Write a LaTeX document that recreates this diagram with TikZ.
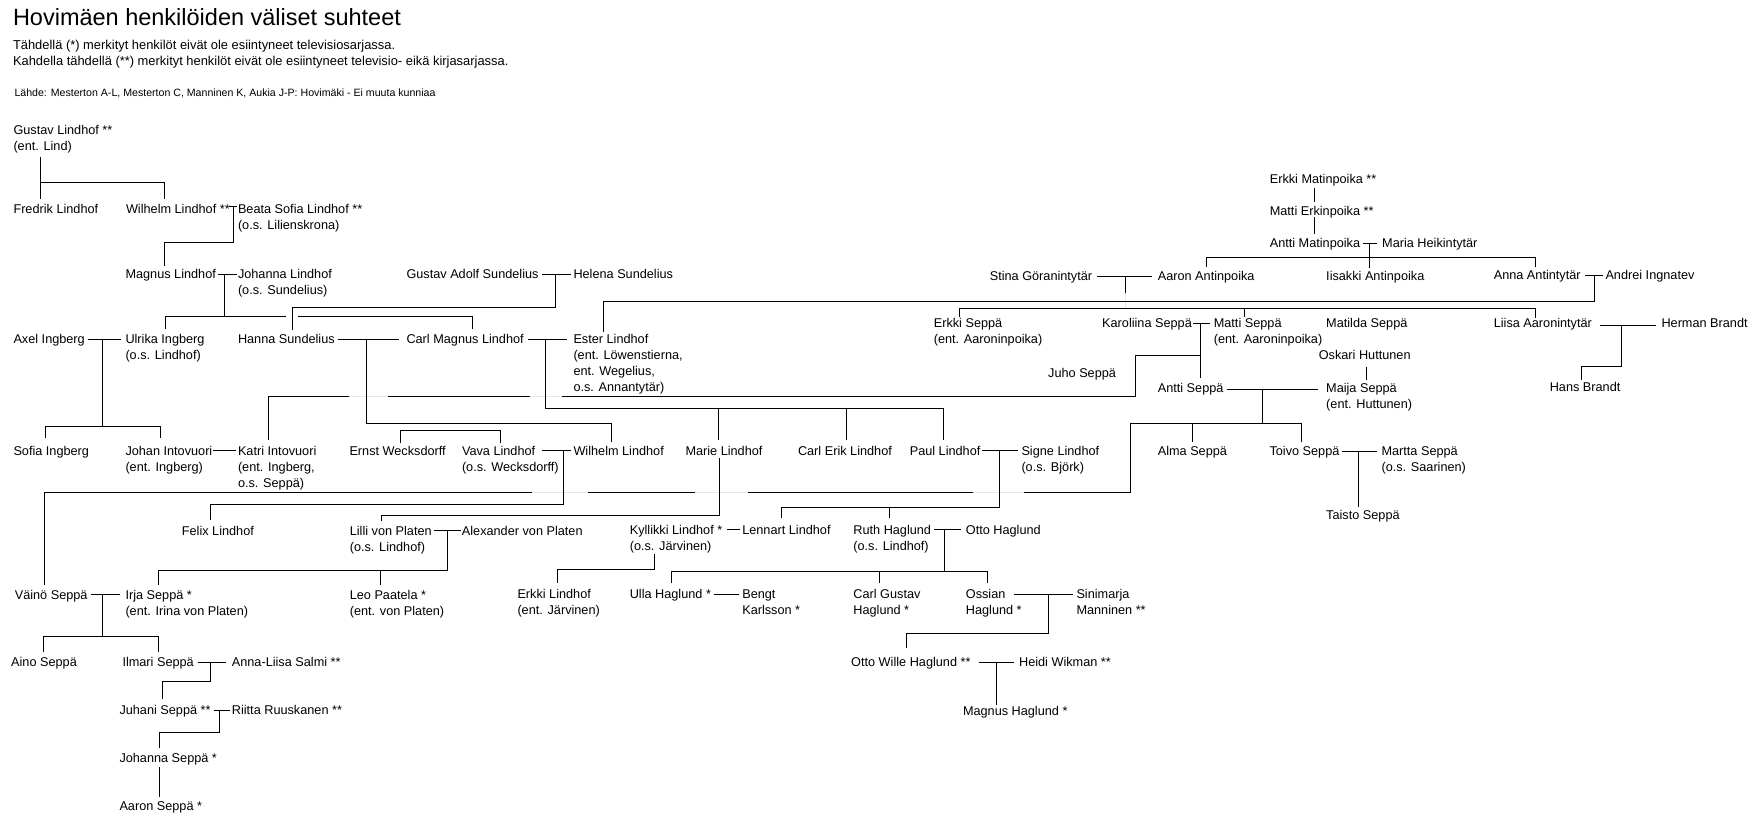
\documentclass[tikz,border=0pt]{standalone}
\usepackage{fontspec}
\setmainfont{Liberation Sans}
\newcommand{\namefont}{\fontsize{12.7}{16}\selectfont}
\newcommand{\lns}[1]{\begin{tabular}[t]{@{}l@{}}#1\end{tabular}}
\tikzset{person/.style={anchor=base west,inner sep=0pt,font=\namefont}}
\tikzset{crossing/.style={draw=black!10}}

\begin{document}
\begin{tikzpicture}[x=1pt,y=-1pt,line width=1pt]
\fill[white] (0,0) rectangle (1760,826);
\useasboundingbox (0,0) rectangle (1760,826);
% heading
\node[anchor=base west,inner sep=0pt,font=\fontsize{23.5}{28}\selectfont] (title) at (12.5,26) {Hovimäen henkilöiden väliset suhteet};
\node[person,font=\fontsize{12.9}{16.7}\selectfont] (notes) at (12.5,49.3) {\lns{Tähdellä (*) merkityt henkilöt eivät ole esiintyneet televisiosarjassa.\\Kahdella tähdellä (**) merkityt henkilöt eivät ole esiintyneet televisio- eikä kirjasarjassa.}};
\node[anchor=base west,inner sep=0pt,font=\fontsize{10.6}{13}\selectfont] (source) at (14,96.7) {Lähde: Mesterton A-L, Mesterton C, Manninen K, Aukia J-P: Hovimäki - Ei muuta kunniaa};

% Lindhof side
\node[person] (gustav) at (13,135) {\lns{Gustav Lindhof **\\(ent. Lind)}};
\node[person] (fredrik) at (13,214) {Fredrik Lindhof};
\node[person] (wilhelmA) at (125.5,214) {Wilhelm Lindhof **};
\node[person] (beata) at (237.5,214) {\lns{Beata Sofia Lindhof **\\(o.s. Lilienskrona)}};
\node[person] (magnus) at (125,278) {Magnus Lindhof};
\node[person] (johanna) at (237.5,278) {\lns{Johanna Lindhof\\(o.s. Sundelius)}};
\node[person] (gustavadolf) at (406,278) {Gustav Adolf Sundelius};
\node[person] (helena) at (573,278) {Helena Sundelius};
\node[person] (axel) at (13,343) {Axel Ingberg};
\node[person] (ulrika) at (125,343) {\lns{Ulrika Ingberg\\(o.s. Lindhof)}};
\node[person] (hanna) at (237.5,343) {Hanna Sundelius};
\node[person] (carlmagnus) at (406,343) {Carl Magnus Lindhof};
\node[person] (ester) at (573,343) {\lns{Ester Lindhof\\(ent. Löwenstierna,\\ent. Wegelius,\\o.s. Annantytär)}};
\node[person] (sofia) at (13,455) {Sofia Ingberg};
\node[person] (johan) at (125,455) {\lns{Johan Intovuori\\(ent. Ingberg)}};
\node[person] (katri) at (237.5,455) {\lns{Katri Intovuori\\(ent. Ingberg,\\o.s. Seppä)}};
\node[person] (ernst) at (349,455) {Ernst Wecksdorff};
\node[person] (vava) at (461.5,455) {\lns{Vava Lindhof\\(o.s. Wecksdorff)}};
\node[person] (wilhelmB) at (573,455) {Wilhelm Lindhof};
\node[person] (marie) at (685,455) {Marie Lindhof};
\node[person] (carlerik) at (797.5,455) {Carl Erik Lindhof};
\node[person] (paul) at (909.3,455) {Paul Lindhof};
\node[person] (signe) at (1021,455) {\lns{Signe Lindhof\\(o.s. Björk)}};
\node[person] (felix) at (181.4,535) {Felix Lindhof};
\node[person] (lilli) at (349.3,535) {\lns{Lilli von Platen\\(o.s. Lindhof)}};
\node[person] (alexander) at (461.4,535) {Alexander von Platen};
\node[person] (kyllikki) at (629.3,534) {\lns{Kyllikki Lindhof *\\(o.s. Järvinen)}};
\node[person] (lennart) at (741.8,534) {Lennart Lindhof};
\node[person] (ruth) at (852.9,534) {\lns{Ruth Haglund\\(o.s. Lindhof)}};
\node[person] (otto) at (965.4,534) {Otto Haglund};
\node[person] (vaino) at (14.3,599) {Väinö Seppä};
\node[person] (irja) at (125,599) {\lns{Irja Seppä *\\(ent. Irina von Platen)}};
\node[person] (leo) at (349.3,599) {\lns{Leo Paatela *\\(ent. von Platen)}};
\node[person] (erkkiL) at (517,598.3) {\lns{Erkki Lindhof\\(ent. Järvinen)}};
\node[person] (ulla) at (629.3,598.3) {Ulla Haglund *};
\node[person] (bengt) at (741.8,598.3) {\lns{Bengt\\Karlsson *}};
\node[person] (carlgustav) at (852.9,598.3) {\lns{Carl Gustav\\Haglund *}};
\node[person] (ossian) at (965.4,598.3) {\lns{Ossian\\Haglund *}};
\node[person] (sinimarja) at (1076,598.3) {\lns{Sinimarja\\Manninen **}};
\node[person] (aino) at (10.7,666.7) {Aino Seppä};
\node[person] (ilmari) at (122,666.7) {Ilmari Seppä};
\node[person] (annaliisa) at (231.4,666.7) {Anna-Liisa Salmi **};
\node[person] (ottowille) at (850.7,666.7) {Otto Wille Haglund **};
\node[person] (heidi) at (1018.6,666.7) {Heidi Wikman **};
\node[person] (juhani) at (119,714.3) {Juhani Seppä **};
\node[person] (riitta) at (231.4,714.3) {Riitta Ruuskanen **};
\node[person] (magnusH) at (962.5,715) {Magnus Haglund *};
\node[person] (johannaS) at (119,762.3) {Johanna Seppä *};
\node[person] (aaronS) at (119,810) {Aaron Seppä *};

% Seppä side
\node[person] (erkkiM) at (1269.3,184) {Erkki Matinpoika **};
\node[person] (mattiE) at (1269.3,215.7) {Matti Erkinpoika **};
\node[person] (anttiM) at (1269.3,247.3) {Antti Matinpoika};
\node[person] (maria) at (1381.7,247.3) {Maria Heikintytär};
\node[person] (stina) at (989.3,280) {Stina Göranintytär};
\node[person] (aaron) at (1157.3,280) {Aaron Antinpoika};
\node[person] (iisakki) at (1325.7,280) {Iisakki Antinpoika};
\node[person] (anna) at (1493.3,279.3) {Anna Antintytär};
\node[person] (andrei) at (1605,279.3) {Andrei Ingnatev};
\node[person] (erkkiS) at (933.3,327.3) {\lns{Erkki Seppä\\(ent. Aaroninpoika)}};
\node[person] (karoliina) at (1101.7,327.7) {Karoliina Seppä};
\node[person] (mattiS) at (1213.3,327.7) {\lns{Matti Seppä\\(ent. Aaroninpoika)}};
\node[person] (matilda) at (1325.7,327.7) {Matilda Seppä};
\node[person] (liisa) at (1493.3,327.3) {Liisa Aaronintytär};
\node[person] (herman) at (1661,327.3) {Herman Brandt};
\node[person] (oskari) at (1318.3,359) {Oskari Huttunen};
\node[person] (juho) at (1047.7,377.3) {Juho Seppä};
\node[person] (anttiS) at (1157.3,392.3) {Antti Seppä};
\node[person] (maija) at (1325.7,392.3) {\lns{Maija Seppä\\(ent. Huttunen)}};
\node[person] (hans) at (1549.3,391.7) {Hans Brandt};
\node[person] (alma) at (1157.3,455) {Alma Seppä};
\node[person] (toivo) at (1269,455) {Toivo Seppä};
\node[person] (martta) at (1381,455) {\lns{Martta Seppä\\(o.s. Saarinen)}};
\node[person] (taisto) at (1325.7,519.3) {Taisto Seppä};

% couple junctions
\coordinate (wilhelmA-beata) at (233,207);
\coordinate (magnus-johanna) at (224,274);
\coordinate (gustavadolf-helena) at (555,274);
\coordinate (axel-ulrika) at (102,339);
\coordinate (hanna-carlmagnus) at (366.8,339);
\coordinate (carlmagnus-ester) at (545,339);
\coordinate (vava-wilhelmB) at (563.3,450);
\coordinate (paul-signe) at (999.3,450.5);
\coordinate (lilli-alexander) at (447.5,530.5);
\coordinate (ruth-otto) at (944.6,529.5);
\coordinate (vaino-irja) at (102.9,594.3);
\coordinate (ossian-sinimarja) at (1048,594);
\coordinate (ilmari-annaliisa) at (210.7,662.5);
\coordinate (ottowille-heidi) at (996.4,662.3);
\coordinate (juhani-riitta) at (219,710);
\coordinate (anttiM-maria) at (1369.3,243.3);
\coordinate (stina-aaron) at (1125.7,276);
\coordinate (anna-andrei) at (1594.3,275);
\coordinate (karoliina-mattiS) at (1200,323.3);
\coordinate (anttiS-maija) at (1262.3,389);
\coordinate (liisa-herman) at (1621.7,325);
\coordinate (toivo-martta) at (1358.3,451);

% faint bits where lines cross
\draw[crossing] (530,396.3) -- (562,396.3);
\draw[crossing] (349,396.3) -- (387.5,396.3);
\draw[crossing] (531.7,492.5) -- (587.5,492.5);
\draw[crossing] (694.6,492.5) -- (748,492.5);
\draw[crossing] (973,492.5) -- (1024,492.5);
\draw[crossing] (1125.7,293) -- (1125.7,308.3);

% Lindhof lines
\draw (40.4,157) -- (40.4,199);
\draw (40.4,183) -| (164,199);
\draw (228.6,207) -- (237,207);
\draw (wilhelmA-beata) |- (164,243) -- (164,266);
\draw (218,274) -- (237,274);
\draw (magnus-johanna) -- (224,316);
\draw (165,329) |- (286,316);
\draw (298,316) -| (472.5,329);
\draw (542,274) -- (571,274);
\draw (gustavadolf-helena) |- (292,307.3) -- (292,330);
\draw (87.5,339) -- (121,339);
\draw (axel-ulrika) -- (102,426);
\draw (45.7,438) |- (160.7,426) -- (160.7,438);
\draw (337.5,339) -- (399,339);
\draw (hanna-carlmagnus) |- (611,423.3) -- (611,442);
\draw (528,339) -- (566.7,339);
\draw (carlmagnus-ester) |- (943.3,408.3) -- (943.3,440);
\draw (718,408.3) -- (718,440);
\draw (846.7,408.3) -- (846.7,440);
\draw (213,450) -- (235.7,450);
\draw (400.7,442.7) |- (500,430.7) -- (500,442.7);
\draw (541.8,450) -- (571,450);
\draw (vava-wilhelmB) |- (210.7,504.3) -- (210.7,520);
\draw (719,458) |- (381.4,515.7) -- (381.4,520.7);
\draw (982.3,450.5) -- (1018,450.5);
\draw (paul-signe) |- (781.4,507) -- (781.4,518);
\draw (889.3,507) -- (889.3,518);
\draw (434,530.5) -- (460.5,530.5);
\draw (lilli-alexander) |- (158,570.7) -- (158,585);
\draw (380.4,570.7) -- (380.4,585);
\draw (726.8,529.5) -- (740,529.5);
\draw (654.6,554) |- (557.9,569.3) -- (557.9,583.3);
\draw (934,529.5) -- (960.7,529.5);
\draw (ruth-otto) -- (944.6,571.7);
\draw (671.4,583.3) |- (987.5,571.7) -- (987.5,583.3);
\draw (879.3,571.7) -- (879.3,583.3);
\draw (91,594.3) -- (119.6,594.3);
\draw (vaino-irja) -- (102.9,636.7);
\draw (43.6,651.7) |- (158.2,636.7) -- (158.2,651.7);
\draw (713.6,594) -- (738.6,594);
\draw (1014.3,594) -- (1073,594);
\draw (ossian-sinimarja) |- (906.4,633.3) -- (906.4,648.3);
\draw (197.5,662.5) -- (225.7,662.5);
\draw (ilmari-annaliisa) |- (162.5,681) -- (162.5,699.3);
\draw (978.6,662.3) -- (1014,662.3);
\draw (ottowille-heidi) -- (996.4,705);
\draw (213.6,710) -- (230.4,710);
\draw (juhani-riitta) |- (159,732.3) -- (159,748.3);
\draw (159,766.7) -- (159,796.7);

% Seppä lines
\draw (1314,188.3) -- (1314,201.7);
\draw (1314,217) -- (1314,234);
\draw (1363.3,243.3) -- (1376.7,243.3);
\draw (anttiM-maria) -- (1369.3,268.3);
\draw (1206.7,266.7) |- (1535.7,257.3) -- (1535.7,266.7);
\draw (1096.7,276) -- (1152.3,276);
\draw (stina-aaron) -- (1125.7,293);
\draw (959.3,316.7) |- (1535.7,308.3) -- (1535.7,318.3);
\draw (1244.3,308.3) -- (1244.3,316.7);
\draw (1585,275) -- (1603,275);
\draw (anna-andrei) |- (603.3,301.3) -- (603.3,331.7);
\draw (1193.3,323.3) -- (1210,323.3);
\draw (karoliina-mattiS) -- (1200,378.3);
\draw (1200,355.7) -| (1135.7,396.3) -- (562,396.3);
\draw (530,396.3) -- (387.5,396.3);
\draw (349,396.3) -| (268.6,440);
\draw (1366.5,366.7) -- (1366.5,380);
\draw (1226.7,389) -- (1318.3,389);
\draw (anttiS-maija) -- (1262.3,423.3);
\draw (1192.3,423.3) -- (1192.3,442.3);
\draw (1301.7,442.3) |- (1130.3,423.3) -- (1130.3,492.5) -- (1024,492.5);
\draw (973,492.5) -- (748,492.5);
\draw (694.6,492.5) -- (587.5,492.5);
\draw (531.7,492.5) -| (44,585);
\draw (1600,325) -- (1656,325);
\draw (liisa-herman) |- (1581.7,366.7) -- (1581.7,380);
\draw (1341.7,451) -- (1376.7,451);
\draw (toivo-martta) -- (1358.3,507.3);
\end{tikzpicture}
\end{document}
